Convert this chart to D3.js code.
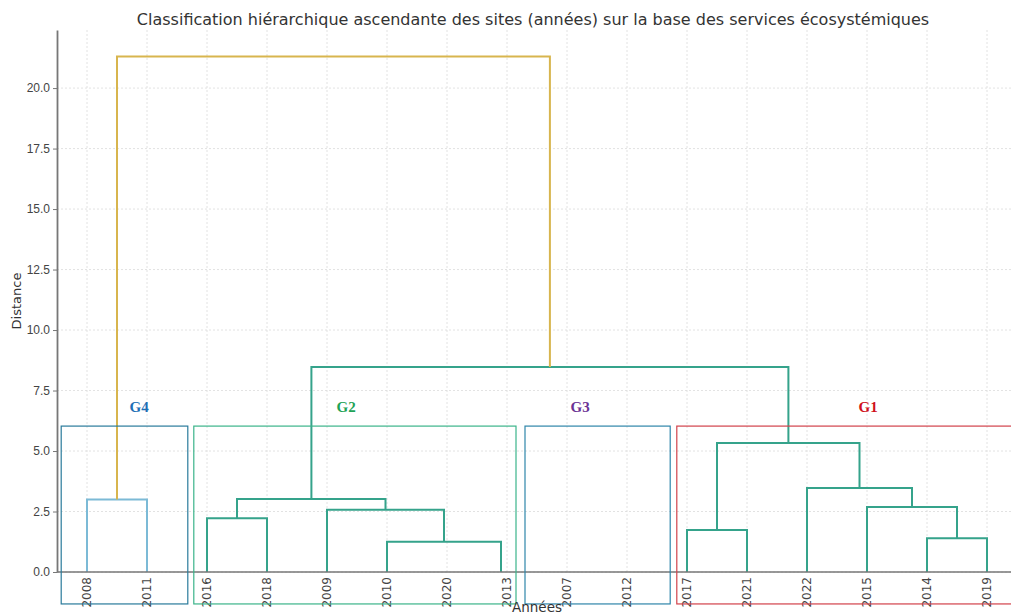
<html>
<head>
<meta charset="utf-8">
<script src="https://d3js.org/d3.v7.min.js"></script>
<style>
  body { margin: 0; background: #fff; }
  svg { font-family: "DejaVu Sans", sans-serif; }
  .grid line { stroke: #dadada; stroke-width: 0.8; stroke-dasharray: 2,2; }
  .axis path, .axis line { stroke: #777; }
  .axis text { fill: #444; font-size: 12px; }
</style>
</head>
<body>
<script>
// leaves, in dendrogram order
var leaves = ["2008","2011","2016","2018","2009","2010","2020","2013","2007","2012","2017","2021","2022","2015","2014","2019"];
var yTicks = [0, 2.5, 5, 7.5, 10, 12.5, 15, 17.5, 20];

// links, scipy style: x in leaf units (leaf i at 5 + 10*i), heights = distance
var icoord = [
  [5, 5, 15, 15],
  [25, 25, 35, 35],
  [55, 55, 74, 74],
  [45, 45, 64.5, 64.5],
  [30, 30, 54.75, 54.75],
  [105, 105, 115, 115],
  [145, 145, 155, 155],
  [135, 135, 150, 150],
  [125, 125, 142.5, 142.5],
  [110, 110, 133.75, 133.75],
  [42.4, 42.4, 121.9, 121.9],
  [10, 10, 82.15, 82.15]
];
var dcoord = [
  [0, 3.0, 3.0, 0],
  [0, 2.22, 2.22, 0],
  [0, 1.25, 1.25, 0],
  [0, 2.57, 2.57, 1.25],
  [2.22, 3.02, 3.02, 2.57],
  [0, 1.74, 1.74, 0],
  [0, 1.40, 1.40, 0],
  [0, 2.69, 2.69, 1.40],
  [0, 3.47, 3.47, 2.69],
  [1.74, 5.33, 5.33, 3.47],
  [3.02, 8.47, 8.47, 5.33],
  [3.0, 21.3, 21.3, 8.47]
];
var linkCluster = ["c1","c2","c2","c2","c2","c2","c2","c2","c2","c2","c2","top"];

// group boxes (data units)
var groupNames = ["G4", "G2", "G3", "G1"];
var groupX0 = [0.7, 22.8, 78, 103.3];
var groupX1 = [21.8, 76.5, 102.2, 162];
var groupTop = 6.03, groupBottom = -1.32;
var groupLabelX = [13.7, 48.2, 87.2, 135.2];

var w = 1011, h = 616;
var margin = {left: 57, right: -6, top: 30, bottom: 44};

var clusterColor = {c1: "#7cbad6", c2: "#35a38b", top: "#d8b54e"};
var boxColor = {G4: "#2a7b9b", G2: "#3bb48a", G3: "#2f86aa", G1: "#d2424b"};
var labelColor = {G4: "#1f6fb5", G2: "#1fa356", G3: "#6b3294", G1: "#d0101b"};

var svg = d3.select("body").append("svg").attr("width", w).attr("height", h);

var x = d3.scaleLinear().domain([0, leaves.length * 10]).range([margin.left, w - margin.right]);
var y = d3.scaleLinear().domain([0, 22.4]).range([h - margin.bottom, margin.top]);

// grid
svg.append("g").attr("class", "grid")
  .selectAll("line.h").data(yTicks).enter().append("line")
  .attr("x1", x(0)).attr("x2", x(leaves.length * 10))
  .attr("y1", d => y(d)).attr("y2", d => y(d));
svg.append("g").attr("class", "grid")
  .selectAll("line.v").data(leaves).enter().append("line")
  .attr("x1", (d, i) => x(5 + 10 * i)).attr("x2", (d, i) => x(5 + 10 * i))
  .attr("y1", y(22.4)).attr("y2", y(0));

// dendrogram links
var line = d3.line().x(d => x(d[0])).y(d => y(d[1]));
svg.append("g").selectAll("path").data(icoord).enter().append("path")
  .attr("d", (d, i) => line(d.map((v, j) => [v, dcoord[i][j]])))
  .attr("fill", "none")
  .attr("stroke", (d, i) => clusterColor[linkCluster[i]])
  .attr("stroke-width", 2);

// axes
var yAxis = d3.axisLeft(y).tickValues(yTicks).tickFormat(d3.format(".1f")).tickSize(4).tickSizeOuter(0);
svg.append("g").attr("class", "axis")
  .attr("transform", "translate(" + x(0) + ",0)")
  .call(yAxis)
  .call(g => g.select(".domain").attr("stroke-width", 1.8));

svg.append("line")
  .attr("x1", x(0)).attr("x2", x(leaves.length * 10))
  .attr("y1", y(0)).attr("y2", y(0))
  .attr("stroke", "#777").attr("stroke-width", 1.5);

svg.append("g").attr("class", "axis")
  .selectAll("text").data(leaves).enter().append("text")
  .attr("transform", (d, i) => "translate(" + x(5 + 10 * i) + "," + (y(0) + 5) + ") rotate(-90)")
  .attr("text-anchor", "end")
  .attr("dy", "0.35em")
  .text(d => d);

// group boxes
svg.append("g").selectAll("rect").data(groupNames).enter().append("rect")
  .attr("x", (d, i) => x(groupX0[i]))
  .attr("y", y(groupTop))
  .attr("width", (d, i) => x(groupX1[i]) - x(groupX0[i]))
  .attr("height", y(groupBottom) - y(groupTop))
  .attr("fill", "none")
  .attr("stroke", d => boxColor[d])
  .attr("stroke-width", 1.2);

svg.append("g").selectAll("text").data(groupNames).enter().append("text")
  .attr("x", (d, i) => x(groupLabelX[i]))
  .attr("y", y(groupTop) - 14)
  .attr("text-anchor", "middle")
  .style("font-family", "'Liberation Serif', serif")
  .style("font-weight", "bold")
  .style("font-size", "15px")
  .attr("fill", d => labelColor[d])
  .text(d => d);

// titles
svg.append("text")
  .attr("x", (x(0) + x(leaves.length * 10)) / 2 - 4)
  .attr("y", 25)
  .attr("text-anchor", "middle")
  .style("font-size", "16px")
  .attr("fill", "#333")
  .text("Classification hiérarchique ascendante des sites (années) sur la base des services écosystémiques");

svg.append("text")
  .attr("transform", "translate(21," + ((y(0) + y(22.4)) / 2) + ") rotate(-90)")
  .attr("text-anchor", "middle")
  .style("font-size", "13px")
  .attr("fill", "#333")
  .text("Distance");

svg.append("text")
  .attr("x", 537)
  .attr("y", 612)
  .attr("text-anchor", "middle")
  .style("font-size", "13.5px")
  .attr("fill", "#333")
  .text("Années");
</script>
</body>
</html>
